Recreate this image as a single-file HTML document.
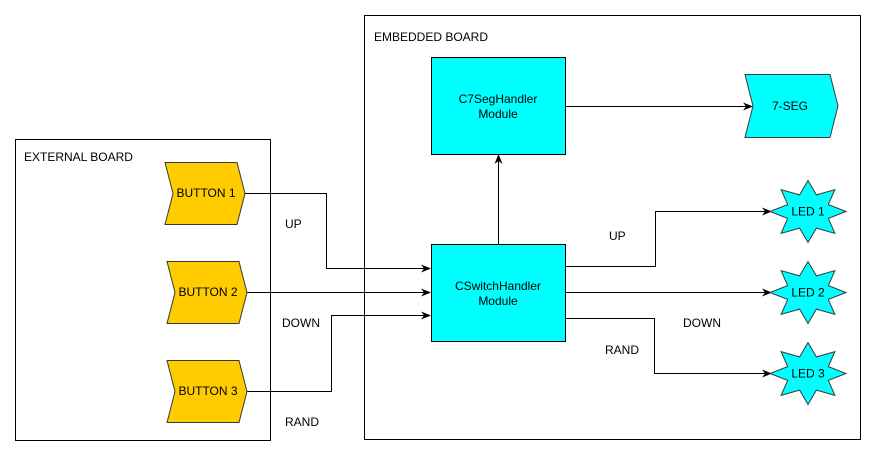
<!DOCTYPE html>
<html><head><meta charset="utf-8"><style>
html,body{margin:0;padding:0;background:#fff;width:876px;height:456px;overflow:hidden}
svg{display:block}
text{font-family:"Liberation Sans",Arial,sans-serif;font-size:12px;fill:#000}
</style></head><body>
<svg width="876" height="456" viewBox="0 0 876 456" xmlns="http://www.w3.org/2000/svg">
<defs>
<marker id="a" markerWidth="10" markerHeight="10" refX="9" refY="5" orient="auto" markerUnits="userSpaceOnUse">
<path d="M0,1 L10,5 L0,9 L3,5 Z" fill="#000"/>
</marker>
<polygon id="star" points="38,0 20.3,6.9 26.9,21.9 8.4,16.6 0,31 -8.4,16.6 -26.9,21.9 -20.3,6.9 -38,0 -20.3,-6.9 -26.9,-21.9 -8.4,-16.6 0,-31 8.4,-16.6 26.9,-21.9 20.3,-6.9" fill="#00ffff" stroke="#36393d" stroke-width="1"/>
</defs>
<rect x="15.5" y="139.5" width="255" height="301" fill="none" stroke="#000"/>
<rect x="364.5" y="15.5" width="496" height="424" fill="none" stroke="#000"/>
<text x="24" y="161">EXTERNAL BOARD</text>
<text x="374" y="41">EMBEDDED BOARD</text>

<g fill="none" stroke="#000" stroke-width="1">
<polyline points="245,193.5 326.5,193.5 326.5,268.5 430,268.5" marker-end="url(#a)"/>
<polyline points="247,292.5 430,292.5" marker-end="url(#a)"/>
<polyline points="247,391.5 331.5,391.5 331.5,315.5 430,315.5" marker-end="url(#a)"/>
<polyline points="498.5,244 498.5,155" marker-end="url(#a)"/>
<polyline points="566,106.5 752,106.5" marker-end="url(#a)"/>
<polyline points="566,266.5 655.5,266.5 655.5,211.5 771,211.5" marker-end="url(#a)"/>
<polyline points="566,292.5 771,292.5" marker-end="url(#a)"/>
<polyline points="566,318.5 654.5,318.5 654.5,373.5 771,373.5" marker-end="url(#a)"/>
</g>

<g fill="#ffcc00" stroke="#36393d">
<polygon points="165,162.5 237,162.5 245,193.5 237,224.5 165,224.5 173,193.5"/>
<polygon points="167,261.5 239,261.5 247,292.5 239,323.5 167,323.5 175,292.5"/>
<polygon points="167,360.5 239,360.5 247,391.5 239,422.5 167,422.5 175,391.5"/>
</g>
<text x="206" y="197" text-anchor="middle">BUTTON 1</text>
<text x="208" y="296" text-anchor="middle">BUTTON 2</text>
<text x="208" y="395" text-anchor="middle">BUTTON 3</text>

<rect x="431.5" y="57.5" width="134" height="97" fill="#00ffff" stroke="#000"/>
<text x="498" y="103" text-anchor="middle">C7SegHandler</text>
<text x="498" y="118" text-anchor="middle">Module</text>
<rect x="431.5" y="244.5" width="134" height="97" fill="#00ffff" stroke="#000"/>
<text x="498" y="290" text-anchor="middle">CSwitchHandler</text>
<text x="498" y="305" text-anchor="middle">Module</text>

<polygon points="745,74.5 830,74.5 838,106 830,137.5 745,137.5 753,106" fill="#00ffff" stroke="#36393d"/>
<text x="790" y="110" text-anchor="middle">7-SEG</text>

<use href="#star" x="808" y="211.5"/>
<use href="#star" x="808" y="292.5"/>
<use href="#star" x="808" y="373.5"/>
<text x="808" y="215.5" text-anchor="middle">LED 1</text>
<text x="808" y="296.5" text-anchor="middle">LED 2</text>
<text x="808" y="377.5" text-anchor="middle">LED 3</text>

<text x="285" y="228">UP</text>
<text x="282" y="327">DOWN</text>
<text x="285" y="426">RAND</text>
<text x="609" y="240">UP</text>
<text x="683" y="327">DOWN</text>
<text x="605" y="354">RAND</text>
</svg>
</body></html>
